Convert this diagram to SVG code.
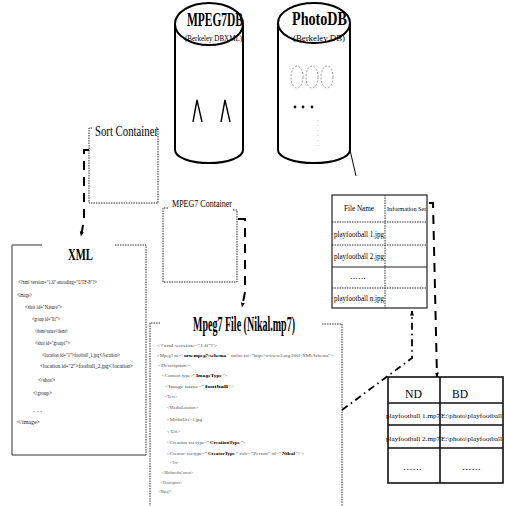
<svg xmlns="http://www.w3.org/2000/svg" width="505" height="506" viewBox="0 0 505 506">
<style>
.cyl{fill:#fff;stroke:#000;stroke-width:2}
.t{font-family:"Liberation Serif",serif;fill:#000}
.b{font-weight:bold}
.s{font-family:"Liberation Serif",serif;font-size:7px;fill:#222}
.m{font-family:"Liberation Serif",serif;font-size:4.6px;fill:#555}
.k{font-family:"Liberation Serif",serif;font-size:4.6px;fill:#000;font-weight:bold}
.dot{fill:none;stroke:#333;stroke-width:1;stroke-dasharray:1.5,1}
.sol{fill:none;stroke:#333;stroke-width:1}
.tb{fill:none;stroke:#222;stroke-width:1.2}
.tb2{fill:none;stroke:#111;stroke-width:1.6}
.dash{fill:none;stroke:#000;stroke-width:2;stroke-dasharray:9,7}
.dd{fill:none;stroke:#000;stroke-width:1.8;stroke-dasharray:7,4,1.5,4}
</style>
<defs>
<marker id="ah" viewBox="0 0 10 10" refX="9" refY="5" markerWidth="5" markerHeight="5" orient="auto" markerUnits="userSpaceOnUse">
<path d="M0,1 L10,5 L0,9 Z" fill="#000"/>
</marker>
</defs>

<g id="mpeg7db">
<path class="cyl" d="M175,24 V150 A34,13 0 0 0 243,150 V24"/>
<ellipse class="cyl" cx="209" cy="24" rx="34" ry="21"/>
<text class="t b" x="187" y="26" font-size="18" textLength="56" lengthAdjust="spacingAndGlyphs">MPEG7DB</text>
<text class="t" x="185" y="41" font-size="9" textLength="57" lengthAdjust="spacingAndGlyphs">(Berkeley DBXML)</text>
<path d="M193,122 L197,100 L202,122 M221,122 L225,100 L230,122" fill="none" stroke="#000" stroke-width="1.4"/>
</g>

<g id="photodb">
<path class="cyl" d="M278,23 V150 A36,13 0 0 0 350,150 V23"/>
<ellipse class="cyl" cx="314" cy="23" rx="36" ry="20"/>
<text class="t b" x="292" y="25" font-size="18" textLength="55" lengthAdjust="spacingAndGlyphs">PhotoDB</text>
<text class="t" x="293" y="41" font-size="9" textLength="52" lengthAdjust="spacingAndGlyphs">(Berkeley DB)</text>
<g fill="none" stroke="#999" stroke-width="1" stroke-dasharray="2,1.5">
<ellipse cx="297" cy="77" rx="6" ry="11"/>
<ellipse cx="312" cy="77" rx="6" ry="11"/>
<ellipse cx="327" cy="77" rx="6" ry="11"/>
</g>
<g fill="#111"><circle cx="295" cy="107" r="1.4"/><circle cx="303" cy="107" r="1.4"/><circle cx="312" cy="107" r="1.4"/></g>
<path d="M318,120 V148" stroke="#bbb" stroke-width="1" stroke-dasharray="1,4" fill="none"/>
</g>

<g id="sort-container">
<path class="dot" d="M92,128 H89 V203 H158 V128 H156"/>
<text class="t" x="95" y="136" font-size="15" textLength="63" lengthAdjust="spacingAndGlyphs">Sort Container</text>
</g>

<g id="mpeg7-container">
<path class="dot" d="M168,208 H163 V282 H237 V210 H232"/>
<text class="t" x="172" y="207" font-size="11" textLength="60" lengthAdjust="spacingAndGlyphs">MPEG7 Container</text>
</g>

<g id="xml">
<path class="sol" d="M42,245 H12 V455 H146"/>
<path class="dot" d="M115,245 H146 V455"/>
<text class="t b" x="68" y="260" font-size="17" textLength="25" lengthAdjust="spacingAndGlyphs">XML</text>
<text class="s" x="18" y="284" textLength="79" lengthAdjust="spacingAndGlyphs">&lt;?xml version="1.0" encoding="UTF-8"?&gt;</text>
<text class="s" x="17" y="297" textLength="15" lengthAdjust="spacingAndGlyphs">&lt;image&gt;</text>
<text class="s" x="25" y="309" textLength="37" lengthAdjust="spacingAndGlyphs">&lt;shot id="Nature"&gt;</text>
<text class="s" x="32" y="321" textLength="28" lengthAdjust="spacingAndGlyphs">&lt;group id="01"&gt;</text>
<text class="s" x="35" y="333" textLength="33" lengthAdjust="spacingAndGlyphs">&lt;theme&gt;nature&lt;/theme&gt;</text>
<text class="s" x="35" y="345" textLength="35" lengthAdjust="spacingAndGlyphs">&lt;shot id="group1"&gt;</text>
<text class="s" x="42" y="357" textLength="78" lengthAdjust="spacingAndGlyphs">&lt;location id="1"&gt;football_1.jpg&lt;/location&gt;</text>
<text class="s" x="40" y="368" textLength="93" lengthAdjust="spacingAndGlyphs">&lt;location id="2"&gt;football_2.jpg&lt;/location&gt;</text>
<text class="s" x="38" y="382" textLength="17" lengthAdjust="spacingAndGlyphs">&lt;/shot&gt;</text>
<text class="s" x="33" y="395" textLength="19" lengthAdjust="spacingAndGlyphs">&lt;/group&gt;</text>
<text class="s" x="33" y="412" textLength="9" lengthAdjust="spacingAndGlyphs">. . .</text>
<text class="s" x="17" y="424" textLength="23" lengthAdjust="spacingAndGlyphs">&lt;/image&gt;</text>
</g>

<g id="mpeg7-file">
<path class="dot" d="M160,323 H150 V506"/>
<path class="dot" d="M322,324 H342 V506"/>
<text class="t b" x="193" y="331" font-size="20" textLength="102" lengthAdjust="spacingAndGlyphs">Mpeg7 File (Nikal.mp7)</text>
<text class="m" x="157" y="347" textLength="60" lengthAdjust="spacingAndGlyphs">&lt;?xml version="1.0"?&gt;</text>
<text class="m" x="157" y="357" textLength="26" lengthAdjust="spacingAndGlyphs">&lt;Mpeg7 ns="</text>
<text class="k" x="184" y="357" textLength="42" lengthAdjust="spacingAndGlyphs">urn:mpeg7:schema</text>
<text class="m" x="227" y="357" textLength="106" lengthAdjust="spacingAndGlyphs">" xmlns:xsi="http://www.w3.org/2001/XMLSchema"&gt;</text>
<text class="m" x="158" y="367" textLength="32" lengthAdjust="spacingAndGlyphs">&lt;Description&gt;</text>
<text class="m" x="162" y="377" textLength="33" lengthAdjust="spacingAndGlyphs">&lt;Content type="</text>
<text class="k" x="196" y="377" textLength="26" lengthAdjust="spacingAndGlyphs">ImageType</text>
<text class="m" x="223" y="377" textLength="4" lengthAdjust="spacingAndGlyphs">"&gt;</text>
<text class="m" x="165" y="388" textLength="39" lengthAdjust="spacingAndGlyphs">&lt;Image name="</text>
<text class="k" x="205" y="388" textLength="23" lengthAdjust="spacingAndGlyphs">football</text>
<text class="m" x="229" y="388" textLength="4" lengthAdjust="spacingAndGlyphs">"&gt;</text>
<text class="m" x="165" y="398" textLength="12" lengthAdjust="spacingAndGlyphs">&lt;Text&gt;</text>
<text class="m" x="167" y="409" textLength="31" lengthAdjust="spacingAndGlyphs">&lt;MediaLocator&gt;</text>
<text class="m" x="167" y="421" textLength="35" lengthAdjust="spacingAndGlyphs">&lt;MediaUri&gt;1.jpg</text>
<text class="m" x="167" y="433" textLength="13" lengthAdjust="spacingAndGlyphs">&lt;/Uri&gt;</text>
<text class="m" x="167" y="444" textLength="42" lengthAdjust="spacingAndGlyphs">&lt;Creation xsi:type="</text>
<text class="k" x="210" y="444" textLength="30" lengthAdjust="spacingAndGlyphs">CreationType</text>
<text class="m" x="241" y="444" textLength="4" lengthAdjust="spacingAndGlyphs">"&gt;</text>
<text class="m" x="167" y="455" textLength="40" lengthAdjust="spacingAndGlyphs">&lt;Creator xsi:type="</text>
<text class="k" x="208" y="455" textLength="27" lengthAdjust="spacingAndGlyphs">CreatorType</text>
<text class="m" x="236" y="455" textLength="45" lengthAdjust="spacingAndGlyphs">" role="Person" id="</text>
<text class="k" x="282" y="455" textLength="13" lengthAdjust="spacingAndGlyphs">Nikal</text>
<text class="m" x="296" y="455" textLength="8" lengthAdjust="spacingAndGlyphs">"/&gt;</text>
<text class="m" x="170" y="464" textLength="9" lengthAdjust="spacingAndGlyphs">&lt;/Text&gt;</text>
<text class="m" x="162" y="474" textLength="31" lengthAdjust="spacingAndGlyphs">&lt;/MultimediaContent&gt;</text>
<text class="m" x="160" y="484" textLength="22" lengthAdjust="spacingAndGlyphs">&lt;/Description&gt;</text>
<text class="m" x="158" y="493" textLength="14" lengthAdjust="spacingAndGlyphs">&lt;/Mpeg7&gt;</text>
</g>

<g id="file-table">
<rect class="tb" x="332" y="195" width="95" height="113"/>
<path class="dot" d="M385,195 V308 M332,222 H427 M332,245 H427 M332,288 H427"/>
<path class="tb" d="M332,267 H427"/>
<text class="t" x="344" y="211" font-size="8.5" textLength="30" lengthAdjust="spacingAndGlyphs">File Name</text>
<text class="t" x="387" y="211" font-size="6.8" textLength="39" lengthAdjust="spacingAndGlyphs">Information Set</text>
<text class="t" x="334" y="237" font-size="9" textLength="50" lengthAdjust="spacingAndGlyphs">playfootball 1.jpg</text>
<text class="t" x="334" y="259" font-size="9" textLength="50" lengthAdjust="spacingAndGlyphs">playfootball 2.jpg</text>
<text class="t" x="350" y="279" font-size="9" textLength="16" lengthAdjust="spacingAndGlyphs">......</text>
<text class="t" x="334" y="301" font-size="9" textLength="50" lengthAdjust="spacingAndGlyphs">playfootball n.jpg</text>
</g>

<g id="id-table">
<rect class="tb2" x="388" y="377" width="115" height="106"/>
<path class="tb2" d="M440,377 V483 M388,403 H503 M388,425 H503 M388,448 H503"/>
<text class="t" x="405" y="398" font-size="13" textLength="17" lengthAdjust="spacingAndGlyphs">ND</text>
<text class="t" x="452" y="398" font-size="13" textLength="16" lengthAdjust="spacingAndGlyphs">BD</text>
<text class="t" x="386" y="418" font-size="7.1" textLength="54" lengthAdjust="spacingAndGlyphs">playfootball 1.mp7</text>
<text class="t" x="441" y="418" font-size="7.1" textLength="61" lengthAdjust="spacingAndGlyphs">E:\photo\playfootball</text>
<text class="t" x="386" y="441" font-size="7.1" textLength="54" lengthAdjust="spacingAndGlyphs">playfootball 2.mp7</text>
<text class="t" x="441" y="441" font-size="7.1" textLength="61" lengthAdjust="spacingAndGlyphs">E:\photo\playfootball</text>
<text class="t" x="403" y="470" font-size="9" textLength="19" lengthAdjust="spacingAndGlyphs">......</text>
<text class="t" x="462" y="470" font-size="9" textLength="19" lengthAdjust="spacingAndGlyphs">......</text>
</g>

<g id="connectors">
<path d="M350,150 L356,176" fill="none" stroke="#000" stroke-width="1"/>
<path class="dash" d="M89,150 H84 V220 L81,236" marker-end="url(#ah)"/>
<path class="dash" d="M238,219 H245 V292 L242,307" marker-end="url(#ah)"/>
<path class="dash" d="M429,203 H433 L437,377" marker-end="url(#ah)"/>
<path class="dd" d="M342,410 L412,358 V311" marker-end="url(#ah)"/>
</g>
</svg>
